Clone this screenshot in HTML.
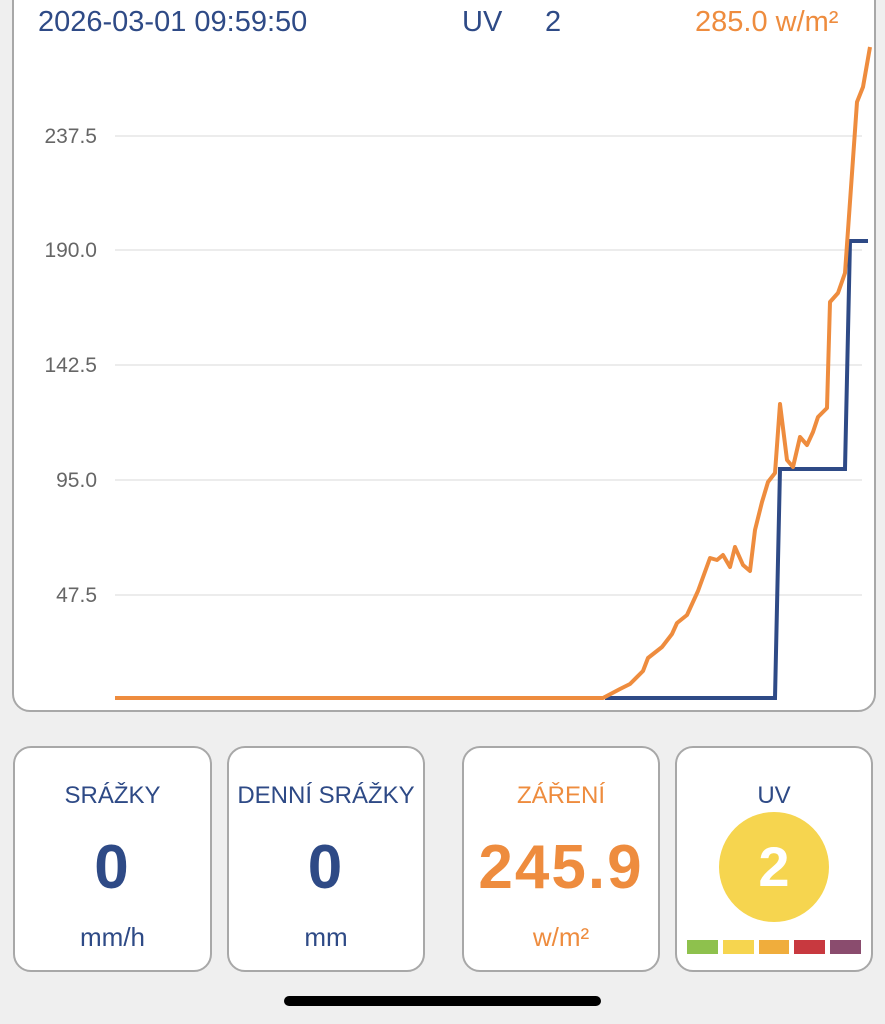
<!DOCTYPE html><html><head><meta charset="utf-8"><style>
body{margin:0;width:885px;height:1024px;background:#efefef;font-family:"Liberation Sans",sans-serif;position:relative;overflow:hidden}
.chart{position:absolute;left:12px;top:-20px;width:860px;height:728px;background:#fff;border:2px solid #a8a8a8;border-radius:18px}
.card{position:absolute;top:746px;height:222px;background:#fff;border:2px solid #a8a8a8;border-radius:18px;text-align:center}
.t{position:absolute;top:34px;width:100%;font-size:24px;color:#2e4a86}
.v{position:absolute;top:84px;width:100%;font-size:62px;font-weight:bold;color:#2e4a86;letter-spacing:2px}
.u{position:absolute;top:174px;width:100%;font-size:26px;color:#2e4a86}
.hd{position:absolute;top:6px;font-size:29px;color:#2e4a86}
</style></head><body>
<div class="chart"></div>
<div class="hd" style="left:38px">2026-03-01 09:59:50</div>
<div class="hd" style="left:462px">UV</div>
<div class="hd" style="left:545px">2</div>
<div class="hd" style="left:695px;color:#ee8c3e">285.0 w/m²</div>
<svg width="885" height="720" style="position:absolute;left:0;top:0" font-family="Liberation Sans" font-size="21" fill="#666">
<g stroke="#e6e6e6" stroke-width="1.5">
<line x1="115" x2="862" y1="136" y2="136"/><line x1="115" x2="862" y1="250" y2="250"/><line x1="115" x2="862" y1="365" y2="365"/><line x1="115" x2="862" y1="480" y2="480"/><line x1="115" x2="862" y1="595" y2="595"/></g>
<g text-anchor="end"><text x="97" y="143">237.5</text><text x="97" y="257">190.0</text><text x="97" y="372">142.5</text><text x="97" y="487">95.0</text><text x="97" y="602">47.5</text></g>
<polyline fill="none" stroke="#2e4a86" stroke-width="4" points="605,698 775,698 780,469 845,469 850,241 868,241"/>
<polyline fill="none" stroke="#ee8c3e" stroke-width="4" stroke-linejoin="round" points="115,698 603,698 620,689 630,684 643,671 648,658 662,647 672,634 677,623 687,615 698,591 710,558 717,560 723,555 730,567 735,547 743,565 750,571 755,530 762,502 768,482 775,473 780,404 787,460 793,467 800,437 807,445 813,432 818,417 827,408 830,302 838,293 845,273 857,102 863,87 870,47"/>
</svg>
<div class="card" style="left:13px;width:195px"><div class="t">SRÁŽKY</div><div class="v">0</div><div class="u">mm/h</div></div>
<div class="card" style="left:227px;width:194px"><div class="t">DENNÍ SRÁŽKY</div><div class="v">0</div><div class="u">mm</div></div>
<div class="card" style="left:462px;width:194px"><div class="t" style="color:#ee8c3e">ZÁŘENÍ</div><div class="v" style="color:#ee8c3e">245.9</div><div class="u" style="color:#ee8c3e">w/m²</div></div>
<div class="card" style="left:675px;width:194px"><div class="t">UV</div>
<div style="position:absolute;left:42px;top:64px;width:110px;height:110px;border-radius:50%;background:#f6d54f;color:#fff;font-size:56px;font-weight:bold;line-height:110px">2</div>
<div style="position:absolute;top:192px;left:10px;width:174px;height:14px;display:flex;gap:5px">
<span style="flex:1;background:#8ec14d"></span><span style="flex:1;background:#f6d54f"></span><span style="flex:1;background:#f0ad3c"></span><span style="flex:1;background:#c8393f"></span><span style="flex:1;background:#8a4c6e"></span></div></div>
<div style="position:absolute;left:284px;top:996px;width:317px;height:10px;border-radius:5px;background:#000"></div>
</body></html>
